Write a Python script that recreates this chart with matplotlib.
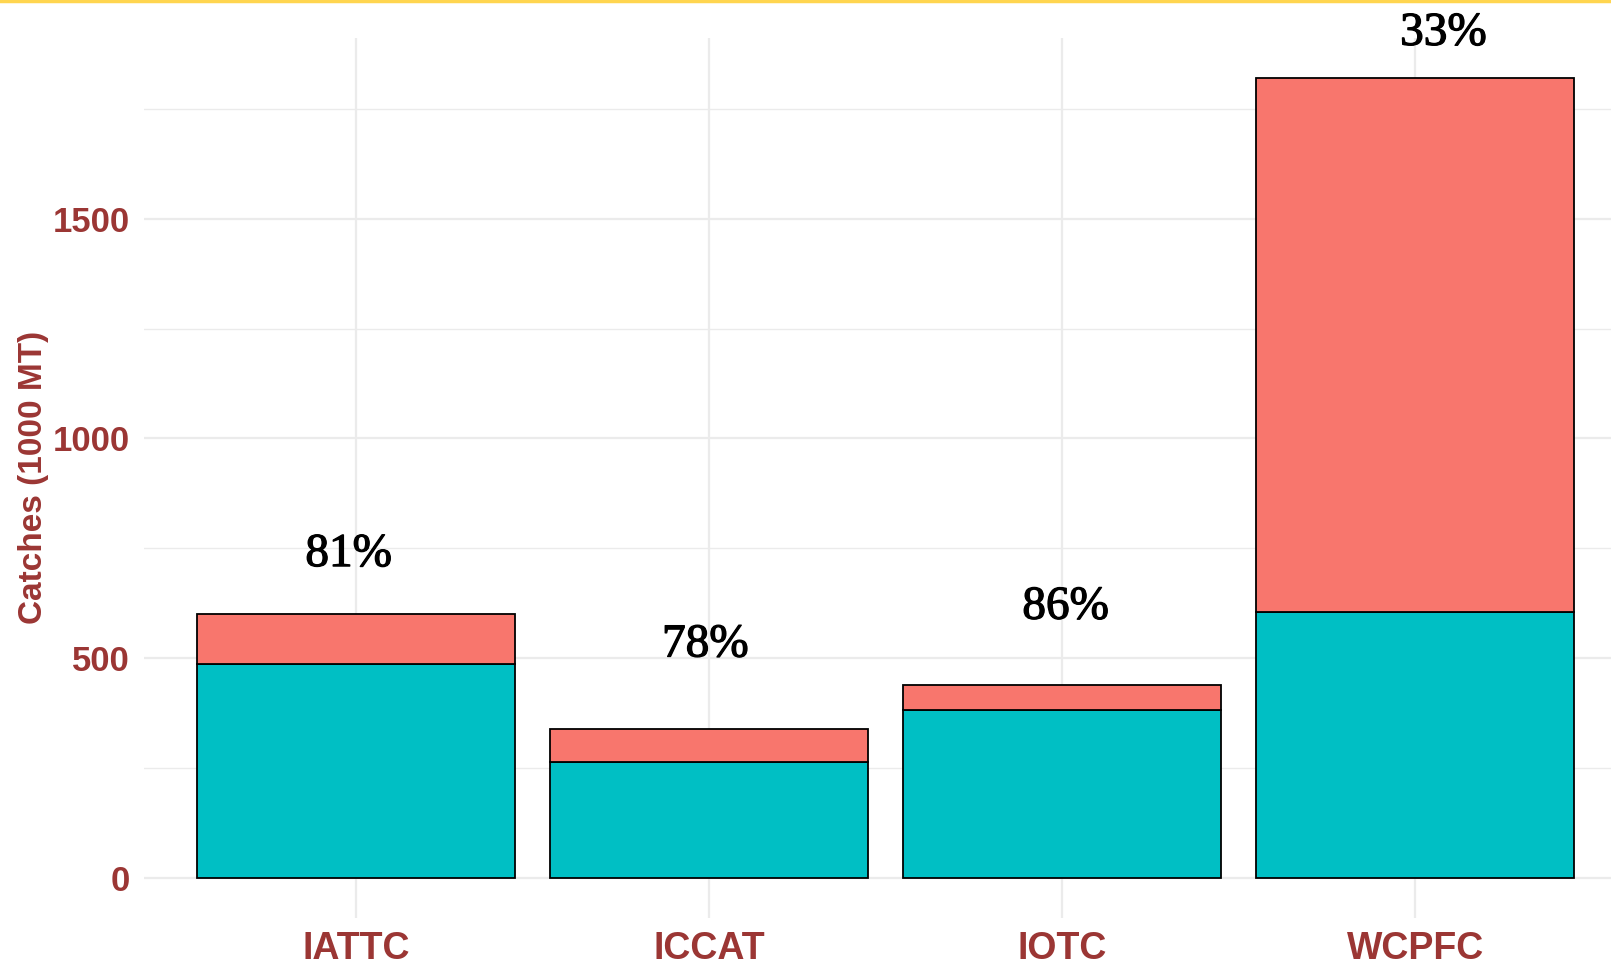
import matplotlib.pyplot as plt
import matplotlib.patheffects as pe
from matplotlib.lines import Line2D

# values in 1000 MT
rfmos = ["IATTC", "ICCAT", "IOTC", "WCPFC"]
share_catch = [487, 264, 381, 605]      # teal, lower part
other_catch = [113, 74, 57, 1216]       # salmon, upper part
pct_labels = ["81%", "78%", "86%", "33%"]
label_y = [735, 529, 615, 1922]
label_dx = [-0.02, -0.01, 0.01, 0.08]

TEAL = "#00BFC4"
SALMON = "#F8766D"
AXIS_RED = "#9B3634"
GRID = "#EBEBEB"

fig = plt.figure(figsize=(16.11, 9.65), dpi=100)
ax = fig.add_axes([0.0893, 0.0492, 0.9207, 0.9114])

x = list(range(len(rfmos)))
totals = [a + b for a, b in zip(share_catch, other_catch)]
ax.bar(x, share_catch, width=0.9, color=TEAL, edgecolor="black", linewidth=1.3, zorder=3)
ax.bar(x, other_catch, bottom=share_catch, width=0.9, color=SALMON,
       edgecolor="black", linewidth=1.3, zorder=3)

for i, (lab, y) in enumerate(zip(pct_labels, label_y)):
    ax.text(i + label_dx[i], y, lab, ha="center", va="center", fontsize=34,
            family="Liberation Serif", color="black", clip_on=False, zorder=4,
            path_effects=[pe.withStroke(linewidth=0.9, foreground="black")])

ax.set_xlim(-0.6, len(rfmos) - 0.4)
ymax = max(totals)
ax.set_ylim(-0.05 * ymax, 1.05 * ymax)

ax.set_xticks(x)
ax.set_xticklabels(rfmos)
ax.set_yticks([0, 500, 1000, 1500])
ax.set_yticks([250, 750, 1250, 1750], minor=True)

for s in ax.spines.values():
    s.set_visible(False)
ax.tick_params(axis="both", which="both", length=0)
ax.tick_params(axis="y", pad=10)
ax.tick_params(axis="x", pad=10)
for t in ax.get_yticklabels():
    t.set_fontfamily("Liberation Sans")
    t.set_fontweight("bold")
    t.set_color(AXIS_RED)
    t.set_fontsize(25)
for t in ax.get_xticklabels():
    t.set_fontfamily("Liberation Sans")
    t.set_fontweight("bold")
    t.set_color(AXIS_RED)
    t.set_fontsize(27)

ax.grid(axis="y", which="major", color=GRID, linewidth=1.6, zorder=0)
ax.grid(axis="y", which="minor", color=GRID, linewidth=1.0, zorder=0)
ax.grid(axis="x", which="major", color=GRID, linewidth=1.6, zorder=0)
ax.set_axisbelow(True)

ax.set_ylabel("Catches (1000 MT)", fontsize=24, fontweight="bold",
              family="Liberation Sans", color=AXIS_RED)
ax.yaxis.set_label_coords(-0.064, 0.5)

# thin yellow rule along the top edge
fig.add_artist(Line2D([0, 1], [0.999, 0.999], transform=fig.transFigure,
                      color="#FFD54F", linewidth=2.5))

fig.savefig("out.png", dpi=100, facecolor="white")
